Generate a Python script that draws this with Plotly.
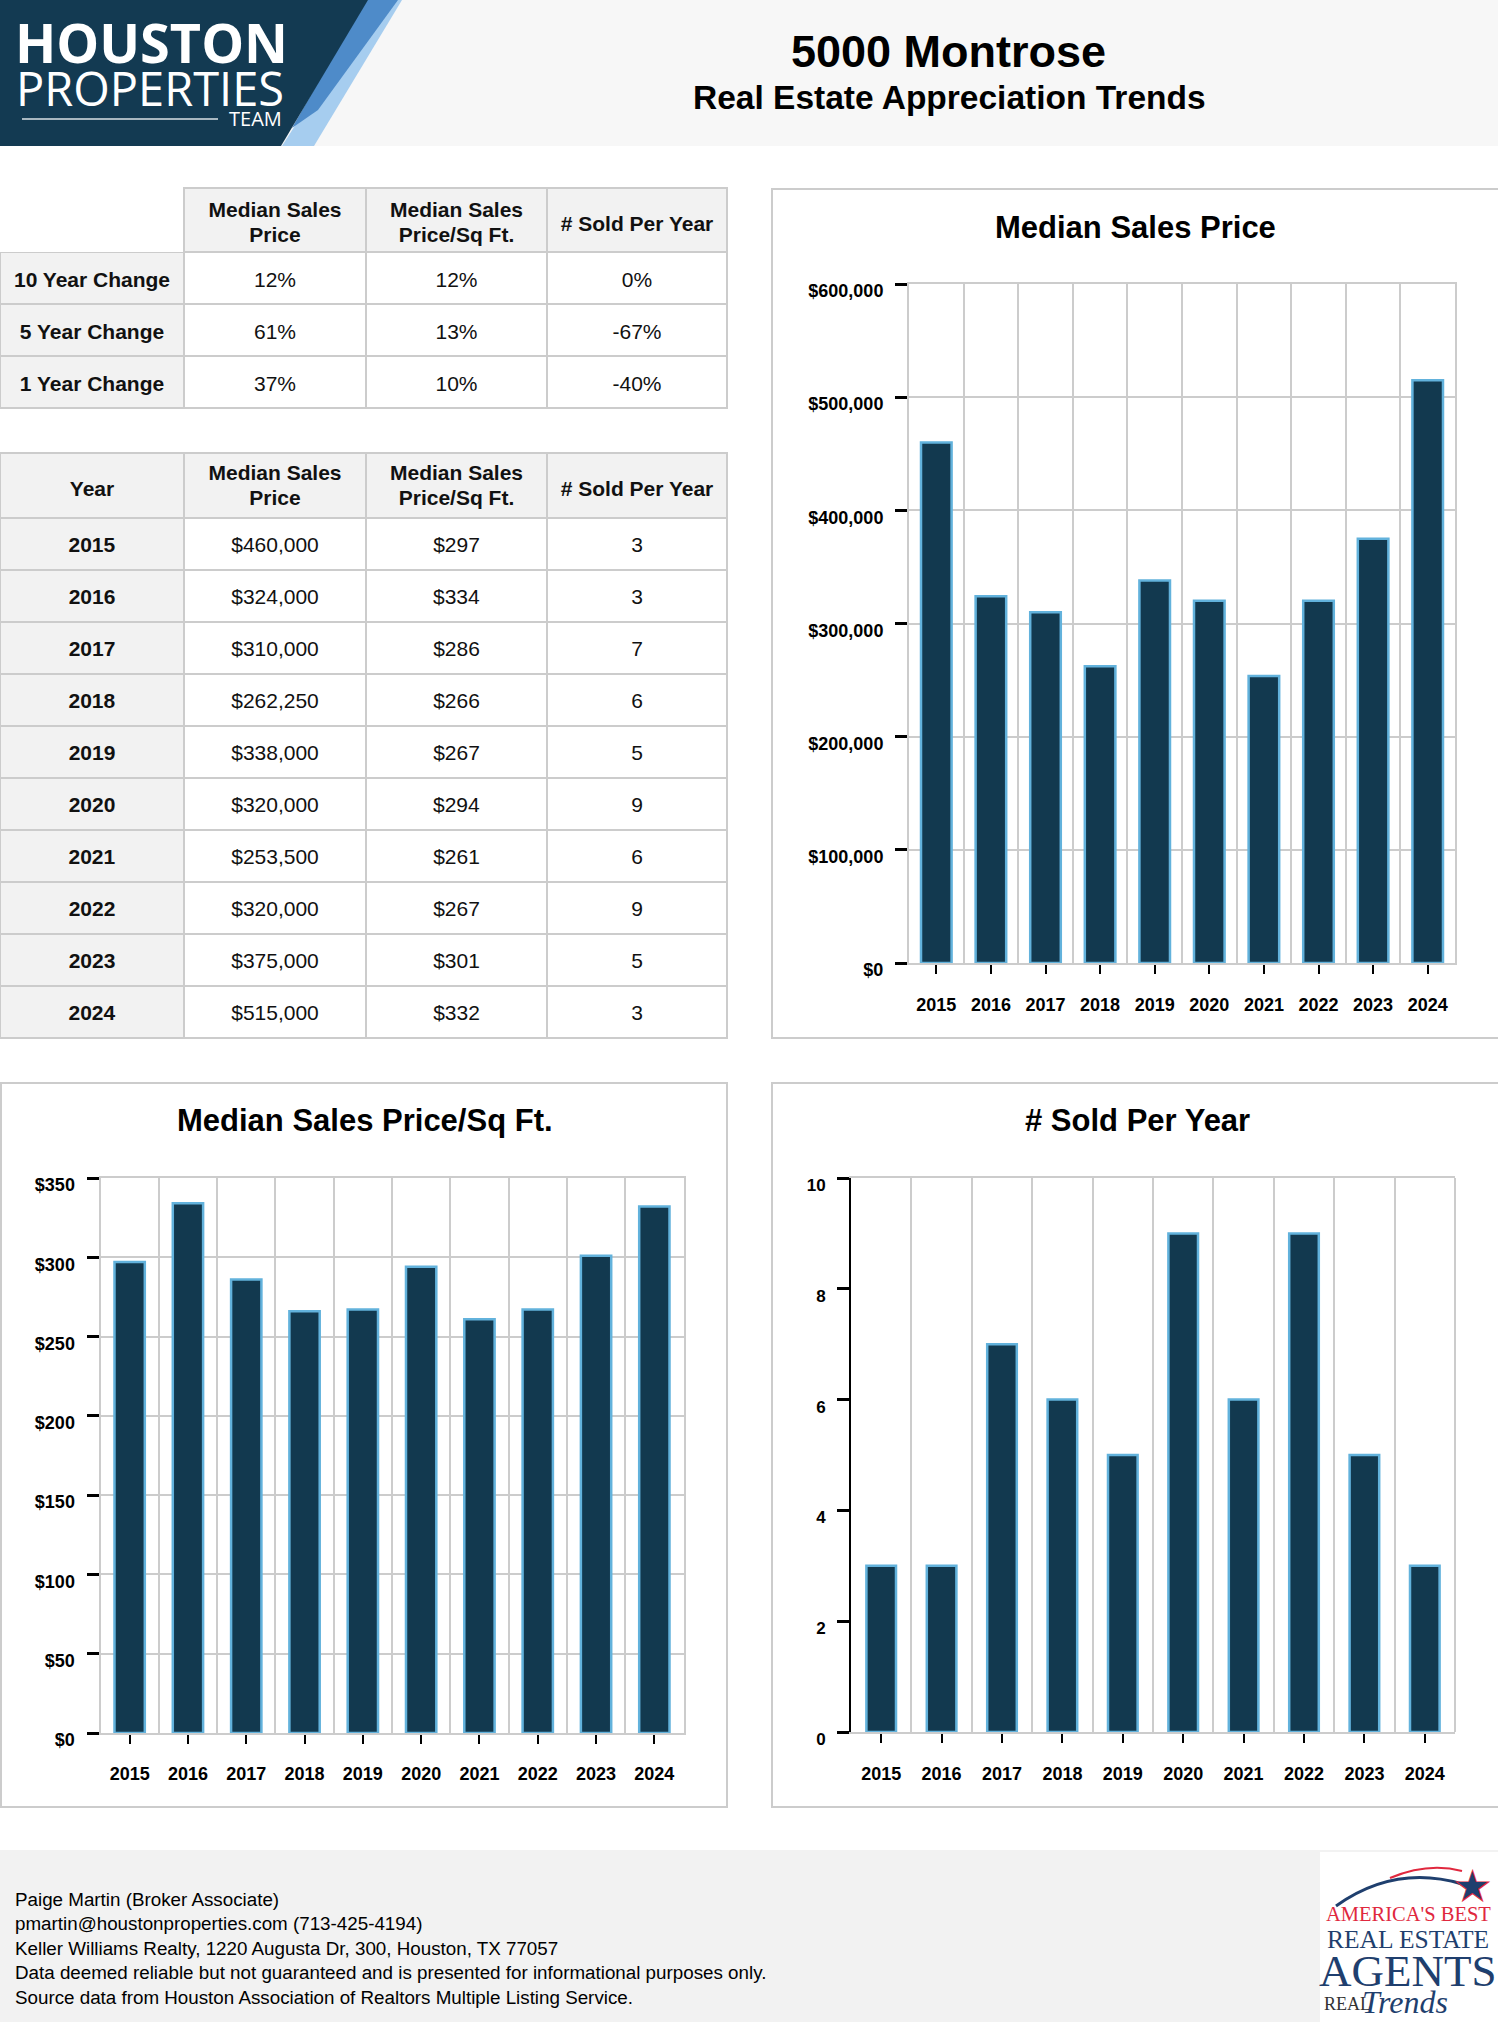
import plotly.graph_objects as go

W, H = 1498, 2022

# ---------------- data ----------------
years = [2015, 2016, 2017, 2018, 2019, 2020, 2021, 2022, 2023, 2024]
median_price = [460000, 324000, 310000, 262250, 338000, 320000, 253500, 320000, 375000, 515000]
price_sqft = [297, 334, 286, 266, 267, 294, 261, 267, 301, 332]
sold_per_year = [3, 3, 7, 6, 5, 9, 6, 9, 5, 3]

change_labels = ["10 Year Change", "5 Year Change", "1 Year Change"]
change_price = ["12%", "61%", "37%"]
change_sqft = ["12%", "13%", "10%"]
change_sold = ["0%", "-67%", "-40%"]

col_headers = ["Median Sales<br>Price", "Median Sales<br>Price/Sq Ft.", "# Sold Per Year"]

footer_lines = [
    "Paige Martin (Broker Associate)",
    "pmartin@houstonproperties.com (713-425-4194)",
    "Keller Williams Realty, 1220 Augusta Dr, 300, Houston, TX 77057",
    "Data deemed reliable but not guaranteed and is presented for informational purposes only.",
    "Source data from Houston Association of Realtors Multiple Listing Service.",
]

# ---------------- style ----------------
NAVY = "#12394f"
EDGE = "#62b2dc"
GRID = "#cccccc"
HEADBG = "#f2f2f2"
TXT = "#111111"
CLEAR = "rgba(0,0,0,0)"
ARIAL = "Liberation Sans, Arial, Helvetica, sans-serif"
TFONT = dict(family=ARIAL, size=21, color=TXT)
COLW = [184, 182, 181, 180]
TABLE_X = [0, 727]
ROW = 52


def fx(x):
    return x / W


def fy(y):
    return 1 - y / H


def b(s):
    return "<b>%s</b>" % s


def p(s):
    return "<span>%s</span>" % s


def split_header(h):
    parts = h.split("<br>")
    return parts if len(parts) == 2 else None


fig = go.Figure()


def add_table(top, head_h, first_header, columns, col_fills, head_fills, head_lines,
              cells_head_h, line_shifts):
    """Grid table (fills + borders) plus transparent text layers."""
    n = len(columns[0])
    bottom = top + head_h + ROW * n + 2
    # grid + fills
    fig.add_trace(go.Table(
        domain=dict(x=[fx(TABLE_X[0]), fx(TABLE_X[1])], y=[fy(bottom), fy(top)]),
        columnwidth=COLW,
        header=dict(values=[""] * 4, fill_color=head_fills,
                    line=dict(color=head_lines, width=2), height=head_h, font=TFONT),
        cells=dict(values=[[""] * n] * 4, fill_color=[[c] * n for c in col_fills],
                   line=dict(color=GRID, width=2), height=ROW, font=TFONT),
    ))
    clear = dict(fill_color=CLEAR, line=dict(color=CLEAR, width=0), align="center", font=TFONT)
    # single-line headers + cell values
    sh = 16
    single = [first_header] + ["" if split_header(h) else b(h) for h in col_headers]
    fig.add_trace(go.Table(
        domain=dict(x=[fx(TABLE_X[0]), fx(TABLE_X[1])], y=[fy(bottom + sh + 8), fy(top + sh)]),
        columnwidth=COLW,
        header=dict(values=single, height=cells_head_h, **clear),
        cells=dict(values=columns, height=ROW, **clear),
    ))
    # two-line headers, one layer per line so that each line is centred
    for idx, sh in enumerate(line_shifts):
        vals = [""] + [b(split_header(h)[idx]) if split_header(h) else "" for h in col_headers]
        fig.add_trace(go.Table(
            domain=dict(x=[fx(TABLE_X[0]), fx(TABLE_X[1])], y=[fy(top + sh + head_h + 6), fy(top + sh)]),
            columnwidth=COLW,
            header=dict(values=vals, height=head_h, **clear),
            cells=dict(values=[[""]] * 4, height=2, **clear),
        ))


# table 1 : change summary
add_table(
    top=188, head_h=64, first_header="",
    columns=[[b(s) for s in change_labels], [p(s) for s in change_price],
             [p(s) for s in change_sqft], [p(s) for s in change_sold]],
    col_fills=[HEADBG, "white", "white", "white"],
    head_fills=["white", HEADBG, HEADBG, HEADBG],
    head_lines=[CLEAR, GRID, GRID, GRID],
    cells_head_h=56, line_shifts=(2, 27),
)

# table 2 : yearly values
add_table(
    top=453, head_h=65, first_header=b("Year"),
    columns=[[b(str(y)) for y in years],
             [p("${:,}".format(v)) for v in median_price],
             [p("${:,}".format(v)) for v in price_sqft],
             [p(str(v)) for v in sold_per_year]],
    col_fills=[HEADBG, "white", "white", "white"],
    head_fills=[HEADBG] * 4,
    head_lines=[GRID] * 4,
    cells_head_h=56, line_shifts=(0, 25),
)

# ---------------- bar charts ----------------
bar_style = dict(marker=dict(color=NAVY, line=dict(color=EDGE, width=2.5)), hoverinfo="skip", showlegend=False)
fig.add_trace(go.Bar(x=years, y=median_price, xaxis="x", yaxis="y", width=0.56, **bar_style))
fig.add_trace(go.Bar(x=years, y=price_sqft, xaxis="x2", yaxis="y2", width=0.52, **bar_style))
fig.add_trace(go.Bar(x=years, y=sold_per_year, xaxis="x3", yaxis="y3", width=0.49, **bar_style))

tickfont = dict(family=ARIAL, size=18, color="black", weight="bold")


def xaxis_cfg(x0, x1, standoff):
    return dict(
        domain=[fx(x0), fx(x1)], type="linear", range=[2014.5, 2024.5], automargin=False,
        tickmode="array", tickvals=years, ticktext=[str(y) for y in years],
        ticks="outside", ticklen=9, tickwidth=2, tickcolor="black",
        showgrid=False, zeroline=False,
        minor=dict(tickmode="linear", tick0=2014.5, dtick=1, showgrid=True,
                   gridcolor=GRID, gridwidth=2, ticks=""),
        showline=True, linecolor=GRID, linewidth=2, mirror=True,
        tickfont=tickfont, ticklabelstandoff=standoff, fixedrange=True,
    )


def yaxis_cfg(y0, y1, rng, dtick, prefix, fmt, anchor, grid=True, line="grid", size=18):
    d = dict(
        domain=[fy(y0), fy(y1)], range=rng, dtick=dtick, tick0=0, automargin=False,
        tickprefix=prefix, tickformat=fmt, anchor=anchor,
        ticks="outside", ticklen=12, tickwidth=3, tickcolor="black",
        showgrid=grid, gridcolor=GRID, gridwidth=2, zeroline=False,
        showline=True, linewidth=2,
        tickfont=dict(family=ARIAL, size=size, color="black", weight="bold"),
        ticklabelstandoff=8, ticklabelshift=7, fixedrange=True,
    )
    if line == "grid":
        d.update(linecolor=GRID, mirror=True)
    else:
        d.update(linecolor="black", mirror=False)
    return d


fig.update_layout(
    xaxis=dict(xaxis_cfg(909, 1455, 15), anchor="y"),
    yaxis=yaxis_cfg(963, 284, [0, 600000], 100000, "$", ",", "x"),
    xaxis2=dict(xaxis_cfg(100.5, 683.5, 14), anchor="y2"),
    yaxis2=yaxis_cfg(1733, 1178, [0, 350], 50, "$", ",", "x2"),
    xaxis3=dict(xaxis_cfg(851, 1455, 15), anchor="y3"),
    yaxis3=yaxis_cfg(1732, 1178, [0, 10], 2, "", "", "x3", grid=False, line="black", size=17),
)

shapes = []
annotations = []

# header band
shapes.append(dict(type="rect", xref="paper", yref="paper", x0=0, x1=1, y0=fy(146), y1=1,
                   fillcolor="#f7f7f7", line=dict(width=0), layer="below"))
# footer band
shapes.append(dict(type="rect", xref="paper", yref="paper", x0=0, x1=1, y0=0, y1=fy(1850),
                   fillcolor=HEADBG, line=dict(width=0), layer="below"))


def poly(pts, color):
    path = "M " + " L ".join("%f,%f" % (fx(a), fy(b_)) for a, b_ in pts) + " Z"
    return dict(type="path", xref="paper", yref="paper", path=path,
                fillcolor=color, line=dict(width=0), layer="above")


# logo polygons
shapes.append(poly([(375, 0), (402, 0), (314, 146), (282, 146)], "#a6cdef"))
shapes.append(poly([(365, 0), (398, 0), (318, 110), (292, 128)], "#4e8bc9"))
shapes.append(poly([(0, 0), (368, 0), (281, 146), (0, 146)], "#133a52"))
# logo underline
shapes.append(dict(type="line", xref="paper", yref="paper", x0=fx(22), x1=fx(218),
                   y0=fy(119), y1=fy(119), line=dict(color="rgba(255,255,255,0.85)", width=1.5)))

annotations += [
    dict(text="HOUSTON", x=fx(13), y=fy(42), xanchor="left", yanchor="middle",
         font=dict(family="Open Sans", size=54, color="white", weight="bold")),
    dict(text="PROPERTIES", x=fx(14), y=fy(88), xanchor="left", yanchor="middle",
         font=dict(family="Open Sans", size=47, color="white", weight="normal")),
    dict(text="TEAM", x=fx(284), y=fy(118), xanchor="right", yanchor="middle",
         font=dict(family="Open Sans", size=20, color="white")),
    dict(text="5000 Montrose", x=fx(948), y=fy(51), xanchor="center", yanchor="middle",
         font=dict(family=ARIAL, size=45, color="black", weight="bold")),
    dict(text="Real Estate Appreciation Trends", x=fx(949), y=fy(98), xanchor="center", yanchor="middle",
         font=dict(family=ARIAL, size=33.5, color="black", weight="bold")),
]

# chart boxes
for (x0, y0, x1, y1) in [(772, 189, 1500, 1038), (1, 1083, 727, 1807), (772, 1083, 1500, 1807)]:
    shapes.append(dict(type="rect", xref="paper", yref="paper", x0=fx(x0), x1=fx(x1),
                       y0=fy(y1), y1=fy(y0), line=dict(color=GRID, width=2),
                       fillcolor="rgba(0,0,0,0)", layer="below"))
# right edge of chart 3 plot area
shapes.append(dict(type="line", xref="x3 domain", yref="y3 domain", x0=1, x1=1, y0=0, y1=1,
                   line=dict(color=GRID, width=2)))

for text, x, y in [("Median Sales Price", 1135, 227), ("Median Sales Price/Sq Ft.", 365, 1120),
                   ("# Sold Per Year", 1137, 1120)]:
    annotations.append(dict(text=text, x=fx(x), y=fy(y), xanchor="center", yanchor="middle",
                            font=dict(family=ARIAL, size=31, color="black", weight="bold")))

# footer text
annotations.append(dict(text="<br>".join(footer_lines), x=fx(13), y=fy(1948), xanchor="left",
                        yanchor="middle", align="left",
                        font=dict(family=ARIAL, size=18.8, color="black")))

# bottom-right badge
shapes.append(dict(type="rect", xref="paper", yref="paper", x0=fx(1320), x1=1.01, y0=-0.01,
                   y1=fy(1852), fillcolor="white", line=dict(width=0), layer="above"))
shapes.append(dict(type="path", xref="paper", yref="paper",
                   path="M %f,%f Q %f,%f %f,%f" % (fx(1336), fy(1906), fx(1395), fy(1864), fx(1462), fy(1884)),
                   line=dict(color="#1f3f6e", width=3), layer="above"))
shapes.append(dict(type="path", xref="paper", yref="paper",
                   path="M %f,%f Q %f,%f %f,%f" % (fx(1390), fy(1878), fx(1428), fy(1862), fx(1462), fy(1871)),
                   line=dict(color="#e0283e", width=2), layer="above"))
annotations += [
    dict(text="★", x=fx(1472), y=fy(1886), xanchor="center", yanchor="middle",
         font=dict(family="DejaVu Sans", size=46, color="#e0283e")),
    dict(text="★", x=fx(1472), y=fy(1886), xanchor="center", yanchor="middle",
         font=dict(family="DejaVu Sans", size=38, color="#1f3f6e")),
    dict(text="AMERICA'S BEST", x=fx(1408), y=fy(1914), xanchor="center", yanchor="middle",
         font=dict(family="Liberation Serif, serif", size=20.5, color="#e0283e")),
    dict(text="REAL ESTATE", x=fx(1408), y=fy(1939), xanchor="center", yanchor="middle",
         font=dict(family="Liberation Serif, serif", size=25.5, color="#1f3f6e")),
    dict(text="AGENTS", x=fx(1408), y=fy(1971), xanchor="center", yanchor="middle",
         font=dict(family="Liberation Serif, serif", size=45, color="#1f3f6e")),
    dict(text="REAL", x=fx(1322), y=fy(2004), xanchor="left", yanchor="middle",
         font=dict(family="Liberation Serif, serif", size=18, color="#333333")),
    dict(text="<i>Trends</i>", x=fx(1360), y=fy(2002), xanchor="left", yanchor="middle",
         font=dict(family="Liberation Serif, serif", size=32, color="#1f3f6e")),
]

for a in annotations:
    a.update(xref="paper", yref="paper", showarrow=False)

fig.update_layout(
    width=W, height=H, autosize=False,
    margin=dict(l=0, r=0, t=0, b=0, pad=0, autoexpand=False),
    paper_bgcolor="white", plot_bgcolor="white", showlegend=False,
    shapes=shapes, annotations=annotations, bargap=0.4,
)

post = (
    "document.documentElement.style.margin='0';"
    "document.documentElement.style.padding='0';"
    "document.documentElement.style.overflow='hidden';"
    "document.body.style.margin='0';"
    "document.body.style.padding='0';"
    "document.body.style.overflow='hidden';"
    "var g=document.getElementById('{plot_id}');"
    "if(g&&g.parentElement){g.parentElement.style.margin='0';g.parentElement.style.fontSize='0';"
    "g.parentElement.style.lineHeight='0';}"
    "window.scrollTo(0,0);"
)

fig.write_html("out.html", post_script=post, config={"displayModeBar": False, "responsive": False})
